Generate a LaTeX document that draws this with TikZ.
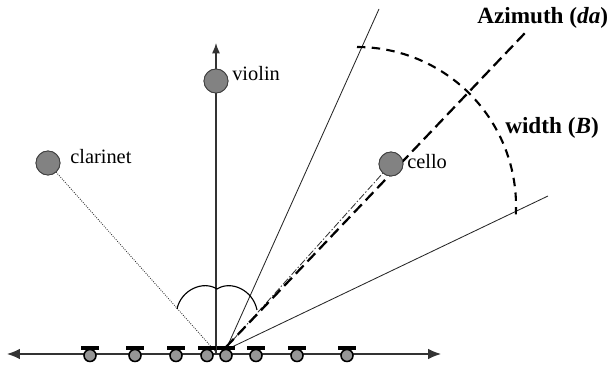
\documentclass[tikz,border=0pt]{standalone}
\usepackage{fontspec}
\setmainfont{Liberation Serif}
\usetikzlibrary{arrows.meta}
\definecolor{instgray}{RGB}{130,130,130}
\definecolor{micgray}{RGB}{150,150,150}

\begin{document}
\begin{tikzpicture}[x=0.025cm, y=-0.025cm,
  inst/.style={circle, draw=black!75, line width=0.6pt, fill=instgray, minimum size=0.6cm, inner sep=0pt},
  lbl/.style={anchor=west, inner sep=0pt, font=\fontsize{14.5}{16}\selectfont},
  bold lbl/.style={anchor=west, inner sep=0pt, font=\fontsize{16.5}{18}\selectfont\bfseries},
  ray/.style={line width=0.6pt, black!85}]
\useasboundingbox (0,0) rectangle (608,367);
% Microphone array axis
\coordinate (axl) at (7,354);
\coordinate (axr) at (441,354);
\draw[{Latex[length=3.2mm, width=2.6mm]}-{Latex[length=3.2mm, width=2.6mm]}, line width=0.8pt, black!80] (axl) -- (axr);
% Origins of the rays
\coordinate (o) at (216,354);
\coordinate (oc) at (215,351);
\coordinate (o1) at (228,345);
\coordinate (o2) at (232,347);
\coordinate (oa) at (226,347);
\coordinate (ocel) at (224,350);
% Far ends
\coordinate (top) at (216,43);
\coordinate (r1) at (379,9);
\coordinate (r2) at (548,196);
\coordinate (az) at (525,33);
% Instruments
\node[inst] (violin) at (216,81) {};
\node[inst] (clarinet) at (48,163) {};
\node[inst] (cello) at (391,164) {};
% Vertical axis
\draw[-{Latex[length=2.6mm, width=2mm]}, line width=0.8pt, black!80] (o) -- (top);
% Rays
\draw[ray] (o1) -- (r1);
\draw[ray] (o2) -- (r2);
\draw[black!85, line width=0.6pt, densely dotted] (oc) -- (clarinet);
\draw[black!80, line width=0.6pt, dash pattern=on 5pt off 1.5pt on 1pt off 1.5pt] (ocel) -- (cello);
\draw[line width=1.6pt, dash pattern=on 8pt off 4pt] (oa) -- (az);
% Width arc
\draw[line width=1.5pt, dash pattern=on 6pt off 4.5pt] (357,47) arc[start angle=90, end angle=-3, radius=3.975cm];
% Small angle arcs
\draw[line width=0.8pt] (177,309) .. controls (181,290) and (203,280) .. (217,289)
  .. controls (231,280) and (253,290) .. (257,310);
% Re-draw instruments above lines
\node[inst] at (violin) {};
\node[inst] at (clarinet) {};
\node[inst] at (cello) {};
% Microphones
\foreach \x in {90,135,176,207,226,256,297,347} {
  \filldraw[fill=micgray, draw=black, line width=1.1pt] (\x,355.5) circle (0.15cm);
  \draw[line width=2.2pt] (\x-9,348) -- (\x+9,348);
}
% Labels
\node[lbl] (violinlbl) at (232,74) {violin};
\node[lbl] (clarinetlbl) at (70,157) {clarinet};
\node[lbl] (cellolbl) at (407,162) {cello};
\node[bold lbl] (azlbl) at (477,18) {Azimuth (\textit{da})};
\node[bold lbl] (widthlbl) at (505,128) {width (\textit{B})};
\end{tikzpicture}
\end{document}
